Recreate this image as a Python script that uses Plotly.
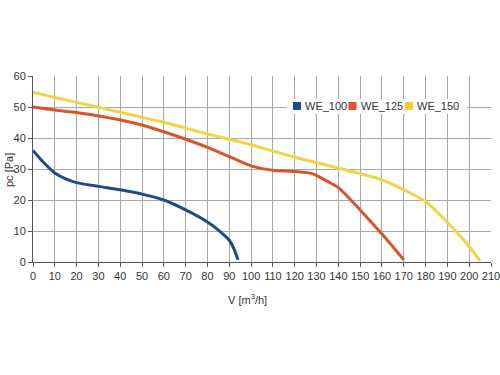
import plotly.graph_objects as go

# WE_100
x100 = [0, 5, 10, 15, 20, 30, 40, 50, 60, 70, 80, 85, 90, 92, 94]
y100 = [36, 32, 28.7, 26.8, 25.6, 24.4, 23.3, 21.9, 20, 16.8, 12.9, 10.3, 7.0, 4.5, 0.7]
# WE_125
x125 = [0, 10, 20, 30, 40, 50, 60, 70, 80, 90, 100, 110, 120, 128, 135, 140, 150, 160, 170]
y125 = [50, 49, 48.2, 47.1, 45.8, 44.2, 42, 39.6, 37, 34, 31, 29.6, 29.2, 28.5, 26, 24, 16.8, 9.0, 0.7]
# WE_150
x150 = [0, 10, 20, 30, 40, 50, 60, 70, 80, 90, 100, 120, 140, 160, 170, 180, 190, 200, 205]
y150 = [54.8, 53.1, 51.5, 49.9, 48.3, 46.7, 45.1, 43.2, 41.3, 39.6, 37.8, 33.8, 30.3, 26.5, 23.3, 19.5, 12.8, 5.0, 0.3]

names = ["WE_100", "WE_125", "WE_150"]
line_colors = ["#1f4a87", "#d9532b", "#f0d444"]
swatch_colors = ["#1d4a8f", "#e8502a", "#f5cc2f"]

L, R, T, B = 33, 491, 76, 262
W, H = 500, 375


def px(xp):
    return (xp - L) / (R - L)


def py(yp):
    return (B - yp) / (B - T)


fig = go.Figure()
for xs, ys, c, n in zip([x100, x125, x150], [y100, y125, y150], line_colors, names):
    fig.add_trace(go.Scatter(x=xs, y=ys, mode="lines", name=n,
                             line=dict(color=c, width=3, shape="spline", smoothing=0.8),
                             showlegend=False, hoverinfo="skip"))

fig.update_layout(
    width=W, height=H,
    margin=dict(l=L, r=W - R, t=T, b=H - B, autoexpand=False),
    paper_bgcolor="white", plot_bgcolor="white",
    font=dict(family="Liberation Sans, Arial, sans-serif", size=11, color="#333333"),
    showlegend=False,
    xaxis=dict(range=[0, 210], dtick=10, tick0=0, showgrid=True, gridcolor="#a8a8a8", gridwidth=1,
               showline=True, linecolor="#555555", linewidth=1, ticks="outside", ticklen=4,
               tickcolor="#555555", zeroline=False, fixedrange=True, tickangle=0, automargin=False,
               ticklabeloverflow="allow"),
    yaxis=dict(range=[0, 60], dtick=10, tick0=0, showgrid=True, gridcolor="#a8a8a8", gridwidth=1,
               showline=True, linecolor="#555555", linewidth=1, ticks="outside", ticklen=4,
               tickcolor="#555555", zeroline=False, fixedrange=True, automargin=False,
               ticklabeloverflow="allow"),
)

# legend: white box, colour swatches, labels
fig.add_shape(type="rect", xref="paper", yref="paper", x0=px(287), x1=px(467), y0=py(114), y1=py(99),
              fillcolor="white", line=dict(width=0), layer="above")
sw_x = [293, 348.5, 405]
tx_x = [303, 358.5, 415]
for n, c, sx, tx in zip(names, swatch_colors, sw_x, tx_x):
    fig.add_shape(type="rect", xref="paper", yref="paper", x0=px(sx), x1=px(sx + 8), y0=py(110), y1=py(102),
                  fillcolor=c, line=dict(width=0), layer="above")
    fig.add_annotation(text=n, x=px(tx), y=py(106), xref="paper", yref="paper", showarrow=False,
                       xanchor="left", yanchor="middle", font=dict(size=11, color="#333333"))

fig.add_annotation(text="V [m<sup>3</sup>/h]", x=px(247), y=py(299),
                   xref="paper", yref="paper", showarrow=False, xanchor="center", yanchor="middle",
                   font=dict(size=11, color="#333333"))
fig.add_annotation(text="pc [Pa]", x=px(9), y=py(170), textangle=-90,
                   xref="paper", yref="paper", showarrow=False, xanchor="center", yanchor="middle",
                   font=dict(size=11, color="#333333"))

fig.write_html("out.html", config={"displayModeBar": False, "staticPlot": True},
               post_script="document.body.style.margin='0px';document.body.style.padding='0px';")
